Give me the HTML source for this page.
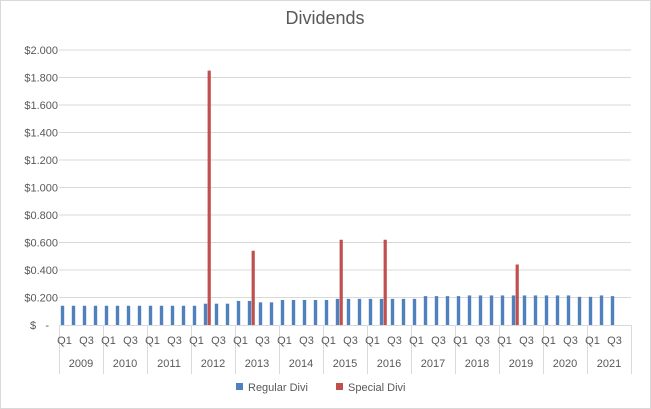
<!DOCTYPE html>
<html><head><meta charset="utf-8"><style>
body{margin:0;background:#fff}
svg{display:block;font-family:"Liberation Sans",sans-serif}
</style></head><body>
<svg id="chart" width="651" height="409" xmlns="http://www.w3.org/2000/svg">
<rect x="0.5" y="0.5" width="650" height="408" fill="#fff" stroke="#d9d9d9"/>
<text x="325" y="24" text-anchor="middle" font-size="18" fill="#595959">Dividends</text>
<g id="grid"></g><g id="yticks"></g><g id="bars"></g><g id="xaxis"></g>
<g>
<rect x="236" y="383" width="7" height="7" fill="#4f81bd"/>
<text x="248" y="391" font-size="11" fill="#595959">Regular Divi</text>
<rect x="336" y="383" width="7" height="7" fill="#c0504d"/>
<text x="348" y="391" font-size="11" fill="#595959">Special Divi</text>
</g>
</svg>
<script>
const years=["2009","2010","2011","2012","2013","2014","2015","2016","2017","2018","2019","2020","2021"];
const quarters=["Q1","Q2","Q3","Q4"];
const regular=[0.14,0.14,0.14,0.14, 0.14,0.14,0.14,0.14, 0.14,0.14,0.14,0.14, 0.14,0.155,0.155,0.155,
0.175,0.175,0.165,0.165, 0.182,0.182,0.182,0.182, 0.182,0.19,0.19,0.19, 0.19,0.19,0.19,0.19,
0.19,0.21,0.21,0.21, 0.21,0.215,0.215,0.215, 0.215,0.215,0.215,0.215, 0.215,0.215,0.215,0.205,
0.205,0.215,0.21,null];
const special=[null,null,null,null, null,null,null,null, null,null,null,null, null,1.85,null,null,
null,0.54,null,null, null,null,null,null, null,0.62,null,null, null,0.62,null,null,
null,null,null,null, null,null,null,null, null,0.44,null,null, null,null,null,null, null,null,null,null];
const yTicks=[0,0.2,0.4,0.6,0.8,1.0,1.2,1.4,1.6,1.8,2.0];
const yTickLabels=["-","$0.200","$0.400","$0.600","$0.800","$1.000","$1.200","$1.400","$1.600","$1.800","$2.000"];
const NS="http://www.w3.org/2000/svg";
const X0=59,X1=631,Y0=325,Y1=50,YMAX=2.0;
const n=years.length*4, slot=(X1-X0)/n;
const y=v=>Y0-(v/YMAX)*(Y0-Y1);
const xs=i=>X0+i*slot;
function mk(tag,attrs,parent){const e=document.createElementNS(NS,tag);for(const k in attrs)e.setAttribute(k,attrs[k]);parent.appendChild(e);return e;}
const grid=document.getElementById('grid'),yt=document.getElementById('yticks'),bars=document.getElementById('bars'),xa=document.getElementById('xaxis');
yTicks.forEach((t,i)=>{
 if(t>0){const l=mk('line',{x1:X0,x2:X1,y1:y(t),y2:y(t),stroke:'#d9d9d9','stroke-width':1},grid);
 
 }
 if(t===0){const d=mk('text',{x:30,y:y(t)+4,'font-size':11,fill:'#595959'},yt);d.textContent='$';
 
 }
 const s=mk('text',{x:t===0?49:58,y:y(t)+4,'font-size':11,fill:'#595959','text-anchor':'end'},yt);s.textContent=yTickLabels[i];
 
 
});
regular.forEach((v,i)=>{if(v==null)return;
 const r=mk('rect',{x:xs(i)+1.8,y:y(v),width:3.4,height:Y0-y(v),fill:'#4f81bd'},bars);
 
 });
special.forEach((v,i)=>{if(v==null)return;
 const r=mk('rect',{x:xs(i)+5.6,y:y(v),width:3.2,height:Y0-y(v),fill:'#c0504d'},bars);
 
 });
const ax=mk('line',{x1:X0,x2:X1,y1:Y0+0.5,y2:Y0+0.5,stroke:'#d9d9d9'},xa);


for(let k=0;k<=years.length;k++){
 const sep=mk('line',{x1:xs(k*4)+0.5,x2:xs(k*4)+0.5,y1:Y0,y2:374,stroke:'#d9d9d9'},xa);
 
 
}
years.forEach((yr,k)=>{
 quarters.forEach((q,j)=>{if(j%2)return;
  const t=mk('text',{x:xs(k*4+j)+slot/2,y:344,'font-size':11,fill:'#595959','text-anchor':'middle'},xa);t.textContent=q;
  
  });
 const t=mk('text',{x:xs(k*4)+slot*2,y:367,'font-size':11,fill:'#595959','text-anchor':'middle'},xa);t.textContent=yr;
 
 
});
</script>
</body></html>
